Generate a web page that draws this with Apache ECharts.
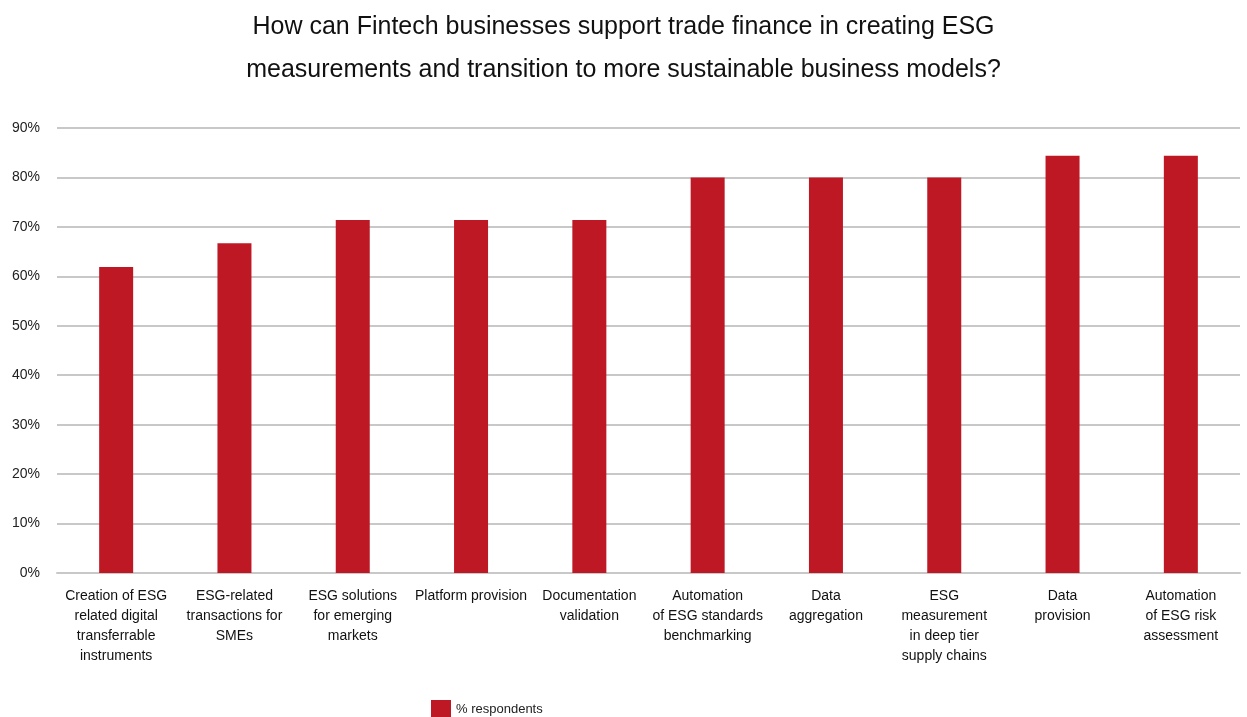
<!DOCTYPE html>
<html>
<head>
<meta charset="utf-8">
<script src="https://cdn.jsdelivr.net/npm/echarts@6/dist/echarts.min.js"></script>
<style>
  html, body { margin: 0; padding: 0; background: #fff; }
  #chart { width: 1247px; height: 717px; }
</style>
</head>
<body>
<div id="chart"></div>
<script>
// Survey answers, one bar per capability
const categories = [
  'Creation of ESG\nrelated digital\ntransferrable\ninstruments',
  'ESG-related\ntransactions for\nSMEs',
  'ESG solutions\nfor emerging\nmarkets',
  'Platform provision',
  'Documentation\nvalidation',
  'Automation\nof ESG standards\nbenchmarking',
  'Data\naggregation',
  'ESG\nmeasurement\nin deep tier\nsupply chains',
  'Data\nprovision',
  'Automation\nof ESG risk\nassessment'
];
const respondents = [61.9, 66.7, 71.4, 71.4, 71.4, 80.0, 80.0, 80.0, 84.4, 84.4];
const seriesName = '% respondents';
const titleText = 'How can Fintech businesses support trade finance in creating ESG\nmeasurements and transition to more sustainable business models?';

const font = "'Liberation Sans Narrow', 'Liberation Sans', Arial, sans-serif";
const chart = echarts.init(document.getElementById('chart'), null, { renderer: 'canvas' });

chart.setOption({
  animation: false,
  title: {
    text: titleText,
    left: 'center',
    top: 1,
    textStyle: { fontFamily: font, fontSize: 25, fontWeight: 'normal', color: '#111', lineHeight: 43 }
  },
  legend: {
    data: [seriesName],
    left: 426,
    top: 695,
    itemWidth: 20,
    itemHeight: 18,
    itemGap: 5,
    icon: 'rect',
    textStyle: { fontFamily: font, fontSize: 13, color: '#222' }
  },
  grid: { left: 57, right: 7, top: 128, bottom: 144, containLabel: false },
  xAxis: {
    type: 'category',
    data: categories,
    axisTick: { show: false },
    axisLine: { lineStyle: { color: '#c8c8c8', width: 2 } },
    axisLabel: {
      interval: 0,
      margin: 13,
      fontFamily: font,
      fontSize: 14,
      lineHeight: 20,
      color: '#111',
      align: 'center'
    }
  },
  yAxis: {
    type: 'value',
    min: 0,
    max: 90,
    interval: 10,
    axisLine: { show: false },
    axisTick: { show: false },
    axisLabel: { formatter: '{value}%', fontFamily: font, fontSize: 14, color: '#222', margin: 17 },
    splitLine: { lineStyle: { color: '#c8c8c8', width: 2 } }
  },
  series: [{
    name: seriesName,
    type: 'bar',
    data: respondents,
    barWidth: 34,
    itemStyle: { color: '#BE1824' }
  }]
});
</script>
</body>
</html>
